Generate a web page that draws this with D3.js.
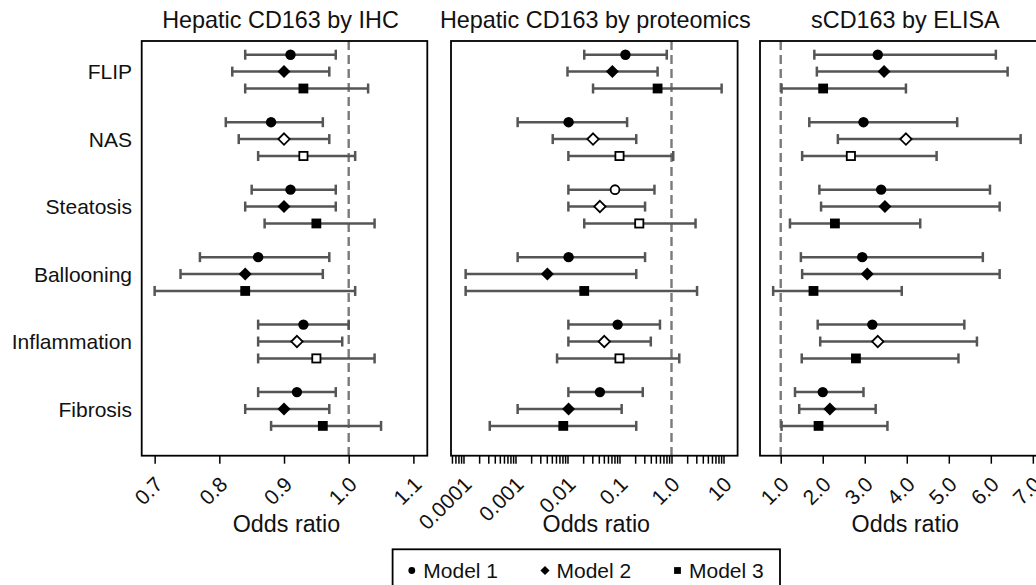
<!DOCTYPE html>
<html><head><meta charset="utf-8">
<script src="https://cdn.jsdelivr.net/npm/d3@7"></script>
<style>
html,body{margin:0;padding:0;background:#fff;}
svg{display:block;font-family:"Liberation Sans",Arial,sans-serif;}
</style></head>
<body>
<svg id="chart" width="1036" height="585"></svg>
<script>
// ---------- data ----------
const categories = ["FLIP","NAS","Steatosis","Ballooning","Inflammation","Fibrosis"];
const models = ["Model 1","Model 2","Model 3"];
const panelTitles = ["Hepatic CD163 by IHC","Hepatic CD163 by proteomics","sCD163 by ELISA"];
const axisTitle = "Odds ratio";

// Hepatic CD163 by IHC  (rows = categories, cols = models)
const ihcEst  = [[0.91,0.90,0.93],[0.88,0.90,0.93],[0.91,0.90,0.95],[0.86,0.84,0.84],[0.93,0.92,0.95],[0.92,0.90,0.96]];
const ihcLow  = [[0.84,0.82,0.84],[0.81,0.83,0.86],[0.85,0.84,0.87],[0.77,0.74,0.70],[0.86,0.86,0.86],[0.86,0.84,0.88]];
const ihcHigh = [[0.98,0.97,1.03],[0.96,0.97,1.01],[0.98,0.98,1.04],[0.97,0.96,1.01],[1.00,0.99,1.04],[0.98,0.97,1.05]];
const ihcOpen = [[0,0,0],[0,1,1],[0,0,0],[0,0,0],[0,1,1],[0,0,0]];

// Hepatic CD163 by proteomics
const protEst  = [[0.13,0.073,0.54],[0.0105,0.031,0.10],[0.082,0.042,0.24],[0.0105,0.0041,0.021],[0.092,0.051,0.10],[0.042,0.0105,0.0083]];
const protLow  = [[0.021,0.010,0.031],[0.0011,0.0052,0.0104],[0.0104,0.0104,0.021],[0.0011,0.00011,0.00011],[0.0104,0.0104,0.0063],[0.0104,0.0011,0.00032]];
const protHigh = [[0.81,0.54,9.2],[0.14,0.21,1.08],[0.47,0.31,2.9],[0.31,0.21,3.1],[0.60,0.40,1.41],[0.28,0.11,0.21]];
const protOpen = [[0,0,0],[0,1,1],[1,1,1],[0,0,0],[0,1,1],[0,0,0]];

// sCD163 by ELISA
const elisaEst  = [[3.31,3.46,2.01],[2.97,3.98,2.67],[3.39,3.48,2.29],[2.94,3.06,1.78],[3.18,3.31,2.79],[2.00,2.17,1.90]];
const elisaLow  = [[1.80,1.86,1.02],[1.68,2.36,1.51],[1.92,1.96,1.22],[1.48,1.51,0.82],[1.88,1.94,1.50],[1.34,1.44,1.02]];
const elisaHigh = [[6.12,6.40,3.98],[5.20,6.71,4.71],[5.98,6.21,4.32],[5.81,6.21,3.88],[5.37,5.67,5.23],[2.97,3.26,3.54]];
const elisaOpen = [[0,0,0],[0,1,1],[0,0,0],[0,0,0],[0,1,0],[0,0,0]];

const ihcTicks = [0.7,0.8,0.9,1.0,1.1];
const ihcTickLabels = ["0.7","0.8","0.9","1.0","1.1"];
const protTicks = [0.0001,0.001,0.01,0.1,1,10];
const protTickLabels = ["0.0001","0.001","0.01","0.1","1.0","10"];
const elisaTicks = [1,2,3,4,5,6,7];
const elisaTickLabels = ["1.0","2.0","3.0","4.0","5.0","6.0","7.0"];
const refValue = 1;

// ---------- layout ----------
const svg = d3.select("#chart");
const yTop = 41, yBottom = 455.7;
const panels = [
  {x0:141.7, x1:427.3, scale:d3.scaleLinear().domain([0.68,1.1215]), est:ihcEst, low:ihcLow, high:ihcHigh, open:ihcOpen, ticks:ihcTicks, labels:ihcTickLabels, minor:false, titleShift:-4},
  {x0:451.0, x1:737.6, scale:d3.scaleLog().domain([Math.pow(10,-4.24),Math.pow(10,1.271)]), est:protEst, low:protLow, high:protHigh, open:protOpen, ticks:protTicks, labels:protTickLabels, minor:true, titleShift:1},
  {x0:760.0, x1:1046.7, scale:d3.scaleLinear().domain([0.507,7.33]), est:elisaEst, low:elisaLow, high:elisaHigh, open:elisaOpen, ticks:elisaTicks, labels:elisaTickLabels, minor:false, titleShift:2}
];

const yCat = d3.scalePoint().domain(categories).range([71.6, 409.0]);
const yModel = d3.scalePoint().domain(models).range([-16.9, 16.9]);

const barColor = "#555";
const diamondPath = r => `M0,${-r}L${r},0L0,${r}L${-r},0Z`;

function marker(g, modelIdx, open, big) {
  const fill = open ? "#fff" : "#000";
  const sw = open ? 1.8 : 0;
  if (modelIdx === 0) {
    g.append("circle").attr("r", big ? (open?4.4:5.2) : 3.4).attr("fill", fill).attr("stroke","#000").attr("stroke-width", sw);
  } else if (modelIdx === 1) {
    g.append("path").attr("d", diamondPath(big ? (open?5.7:6.5) : 4.6)).attr("fill", fill).attr("stroke","#000").attr("stroke-width", sw);
  } else {
    const s = big ? (open?8.2:9.8) : 6.8;
    g.append("rect").attr("x",-s/2).attr("y",-s/2).attr("width",s).attr("height",s).attr("fill",fill).attr("stroke","#000").attr("stroke-width",sw);
  }
}

panels.forEach((p, pi) => {
  const x = p.scale.range([p.x0, p.x1]);
  const g = svg.append("g");

  // title
  svg.append("text").attr("x", (p.x0+p.x1)/2 + p.titleShift).attr("y", 28)
    .attr("text-anchor","middle").attr("font-size", 23.4).attr("fill","#111").text(panelTitles[pi]);

  // reference line
  g.append("line").attr("x1", x(refValue)).attr("x2", x(refValue)).attr("y1", yTop).attr("y2", yBottom)
    .attr("stroke","#7a7a7a").attr("stroke-width",2.4).attr("stroke-dasharray","9,5");

  // error bars and markers
  categories.forEach((c, ci) => {
    models.forEach((m, mi) => {
      const y = yCat(c) + yModel(m);
      const lo = x(p.low[ci][mi]), hi = x(p.high[ci][mi]), e = x(p.est[ci][mi]);
      g.append("line").attr("x1",lo).attr("x2",hi).attr("y1",y).attr("y2",y).attr("stroke",barColor).attr("stroke-width",2.5);
      [lo,hi].forEach(xx => g.append("line").attr("x1",xx).attr("x2",xx).attr("y1",y-5).attr("y2",y+5).attr("stroke",barColor).attr("stroke-width",2.5));
      const mg = g.append("g").attr("transform",`translate(${e},${y})`);
      marker(mg, mi, p.open[ci][mi] === 1, true);
    });
  });

  // frame
  svg.append("rect").attr("x",p.x0).attr("y",yTop).attr("width",p.x1-p.x0).attr("height",yBottom-yTop)
    .attr("fill","none").attr("stroke","#000").attr("stroke-width",1.8);

  // axis
  const ax = svg.append("g").attr("transform",`translate(0,${yBottom})`);
  let tickVals = p.ticks;
  if (p.minor) tickVals = x.ticks().filter(v => v >= x.domain()[0] && v <= x.domain()[1]);
  const axis = d3.axisBottom(x).tickValues(tickVals).tickSizeOuter(0).tickSize(8)
    .tickFormat(v => {
      const i = p.ticks.findIndex(t => Math.abs(t - v) / t < 1e-6);
      return i >= 0 ? p.labels[i] : "";
    });
  ax.call(axis);
  ax.select(".domain").remove();
  ax.selectAll(".tick line").attr("stroke","#000").attr("stroke-width",1.5);
  ax.selectAll(".tick text").attr("x",0).attr("y",0).attr("dy",0)
    .attr("text-anchor","end").attr("font-size",21).attr("fill","#111")
    .attr("font-family",'"Liberation Sans",Arial,sans-serif')
    .attr("transform","translate(9,30) rotate(-45)");

  // axis title
  svg.append("text").attr("x",(p.x0+p.x1)/2 + 2).attr("y",532).attr("text-anchor","middle")
    .attr("font-size",23.3).attr("fill","#111").text(axisTitle);
});

// category labels
categories.forEach(c => {
  svg.append("text").attr("x",132).attr("y",yCat(c)+7.8).attr("text-anchor","end")
    .attr("font-size",21).attr("fill","#111").text(c);
});

// legend
const lg = svg.append("g");
lg.append("rect").attr("x",392.6).attr("y",549.3).attr("width",387.4).attr("height",60)
  .attr("fill","#fff").attr("stroke","#000").attr("stroke-width",1.8);
const legendX = [411.8, 545, 677.5];
models.forEach((m, mi) => {
  const mg = lg.append("g").attr("transform",`translate(${legendX[mi]},570.5)`);
  marker(mg, mi, false, false);
  lg.append("text").attr("x", legendX[mi] + 11.5).attr("y",577.5).attr("font-size",21).attr("fill","#111").text(m);
});
</script>
</body></html>
